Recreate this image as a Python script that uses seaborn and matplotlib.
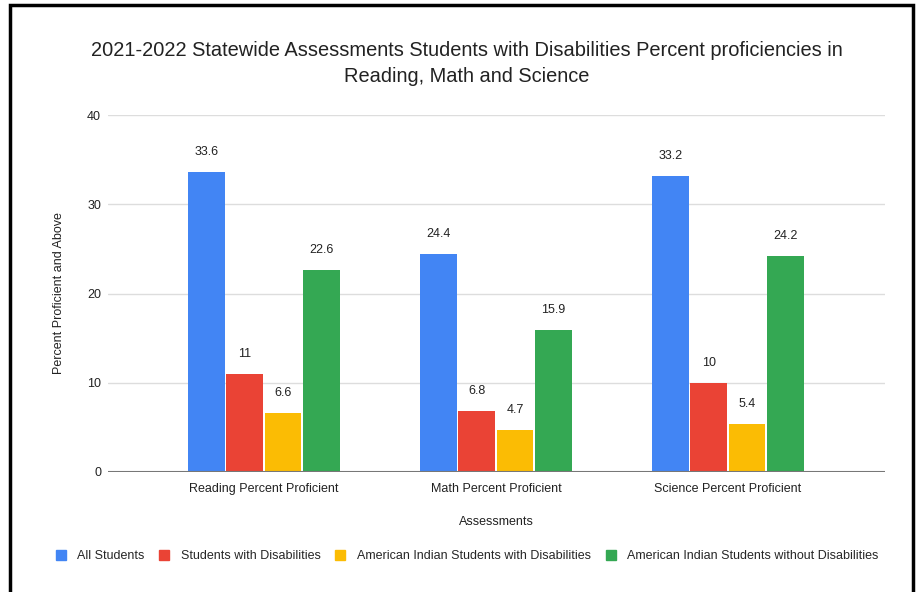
import pandas as pd
import seaborn as sns
import matplotlib.pyplot as plt
from matplotlib.patches import Rectangle

assessments = ["Reading Percent Proficient", "Math Percent Proficient", "Science Percent Proficient"]
groups = ["All Students", "Students with Disabilities",
          "American Indian Students with Disabilities",
          "American Indian Students without Disabilities"]
all_students = [33.6, 24.4, 33.2]
swd = [11, 6.8, 10]
ai_swd = [6.6, 4.7, 5.4]
ai_without = [22.6, 15.9, 24.2]
colors = ["#4285F4", "#EA4335", "#FBBC04", "#34A853"]

rows = []
for g, vals in zip(groups, [all_students, swd, ai_swd, ai_without]):
    for a, v in zip(assessments, vals):
        rows.append({"assessment": a, "group": g, "value": v})
df = pd.DataFrame(rows)

sns.set_style("white")
plt.rcParams['font.family'] = ['Liberation Sans', 'DejaVu Sans']

fig = plt.figure(figsize=(9.17, 5.92), dpi=100)
ax = fig.add_axes([108 / 917, 1 - 472 / 592, 777 / 917, 357 / 592])

sns.barplot(data=df, x="assessment", y="value", hue="group", order=assessments,
            hue_order=groups, palette=colors, width=0.66, gap=0.04,
            edgecolor="none", saturation=1, legend=False, ax=ax)

for c in ax.containers:
    labels = [f"{v:g}" for v in c.datavalues]
    ax.bar_label(c, labels=labels, padding=10, fontsize=9, color="#222222")

ax.set_ylim(0, 40)
ax.set_xlim(-0.672, 2.677)
ax.set_yticks([0, 10, 20, 30, 40])
ax.yaxis.grid(True, color="#dddddd", linewidth=1)
ax.set_axisbelow(True)
for s in ax.spines.values():
    s.set_visible(False)
ax.axhline(0, color="#777777", linewidth=1.5, zorder=3)
ax.tick_params(axis="both", length=0, labelsize=9, colors="#222222")
ax.tick_params(axis="y", pad=5)
ax.tick_params(axis="x", pad=8)
ax.set_xlabel("Assessments", fontsize=9, color="#222222", labelpad=15)
ax.set_ylabel("Percent Proficient and Above", fontsize=9, color="#222222", labelpad=16)

cx = 467 / 917
fig.text(cx, 1 - 51 / 592, "2021-2022 Statewide Assessments Students with Disabilities Percent proficiencies in",
         ha="center", va="center", fontsize=14.4, color="#222222")
fig.text(cx, 1 - 76 / 592, "Reading, Math and Science",
         ha="center", va="center", fontsize=14.4, color="#222222")

handles = [Rectangle((0, 0), 1, 1, color=c) for c in colors]
fig.legend(handles, groups, loc="center", bbox_to_anchor=(cx, 1 - 556 / 592), ncol=4,
           frameon=False, fontsize=9, handlelength=0.8, handleheight=0.9,
           handletextpad=0.9, columnspacing=1.2)

fig.patches.append(Rectangle((10 / 917, -0.05), 903 / 917, 1 - 5 / 592 + 0.05,
                             transform=fig.transFigure, fill=False,
                             edgecolor="black", linewidth=2.5))

fig.savefig("out.png", dpi=100)
